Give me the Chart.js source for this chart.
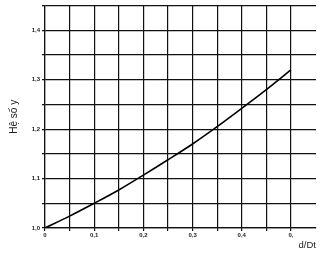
<!DOCTYPE html>
<html>
<head>
<meta charset="utf-8">
<script src="https://cdn.jsdelivr.net/npm/chart.js@4/dist/chart.umd.min.js"></script>
<style>
  html, body { margin: 0; padding: 0; background: #fff; }
  #wrap { width: 328px; height: 254px; }
</style>
</head>
<body>
<div id="wrap"><canvas id="grafico" width="328" height="254"></canvas></div>
<script>
// valores
const ratioD = [0, 0.05, 0.1, 0.15, 0.2, 0.25, 0.3, 0.35, 0.4, 0.45, 0.5];
const heSo = [1.0, 1.024, 1.05, 1.077, 1.107, 1.138, 1.17, 1.205, 1.242, 1.28, 1.32];
const xTickLabels = ['0', '0,1', '0,2', '0,3', '0,4', '0,'];
const yTickLabels = ['1,0', '1,1', '1,2', '1,3', '1,4'];

const puntos = ratioD.map((x, i) => ({ x: x, y: heSo[i] }));

function soloCada(scale, min, paso, hasta) {
  const ticks = [];
  for (let v = min; v <= hasta + 1e-9; v += paso) ticks.push({ value: Math.round(v * 1000) / 1000 });
  scale.ticks = ticks;
}

function etiqueta(value, base, labels) {
  const k = Math.round((value - base) / 0.1 * 1000) / 1000;
  if (Math.abs(k - Math.round(k)) > 1e-6) return '';
  return labels[Math.round(k)] || '';
}

const ctx = document.getElementById('grafico').getContext('2d');
new Chart(ctx, {
  type: 'scatter',
  data: {
    datasets: [{
      data: puntos,
      showLine: true,
      borderColor: '#000',
      borderWidth: 1.6,
      pointRadius: 0,
      tension: 0.3,
      fill: false
    }]
  },
  options: {
    responsive: false,
    animation: false,
    layout: { padding: { left: 8, top: 4, right: 12, bottom: 0 } },
    plugins: { legend: { display: false }, tooltip: { enabled: false } },
    scales: {
      x: {
        type: 'linear',
        min: 0,
        max: 0.551,
        afterBuildTicks: s => soloCada(s, 0, 0.05, 0.5),
        afterFit: s => { s.height = 26; },
        grid: { color: '#111', lineWidth: 1.2, tickLength: 3 },
        border: { color: '#111', width: 1.2 },
        ticks: {
          autoSkip: false,
          maxRotation: 0,
          padding: 1,
          color: '#222',
          font: { family: 'Liberation Sans', size: 6, weight: 'bold' },
          callback: v => etiqueta(v, 0, xTickLabels)
        },
        title: {
          display: true,
          text: 'd/Dt',
          align: 'end',
          color: '#222',
          padding: { top: 0, bottom: 3 },
          font: { family: 'Liberation Sans', size: 9.5 }
        }
      },
      y: {
        type: 'linear',
        min: 1.0,
        max: 1.45,
        afterBuildTicks: s => soloCada(s, 1.0, 0.05, 1.45),
        afterFit: s => { s.width = 37; },
        grid: { color: '#111', lineWidth: 1.2, tickLength: 3 },
        border: { color: '#111', width: 1.2 },
        ticks: {
          autoSkip: false,
          padding: 2,
          color: '#222',
          font: { family: 'Liberation Sans', size: 6, weight: 'bold' },
          callback: v => etiqueta(v, 1.0, yTickLabels)
        },
        title: {
          display: true,
          text: 'Hệ số y',
          color: '#222',
          padding: 0,
          font: { family: 'Liberation Sans', size: 10 }
        }
      }
    }
  }
});
</script>
</body>
</html>
